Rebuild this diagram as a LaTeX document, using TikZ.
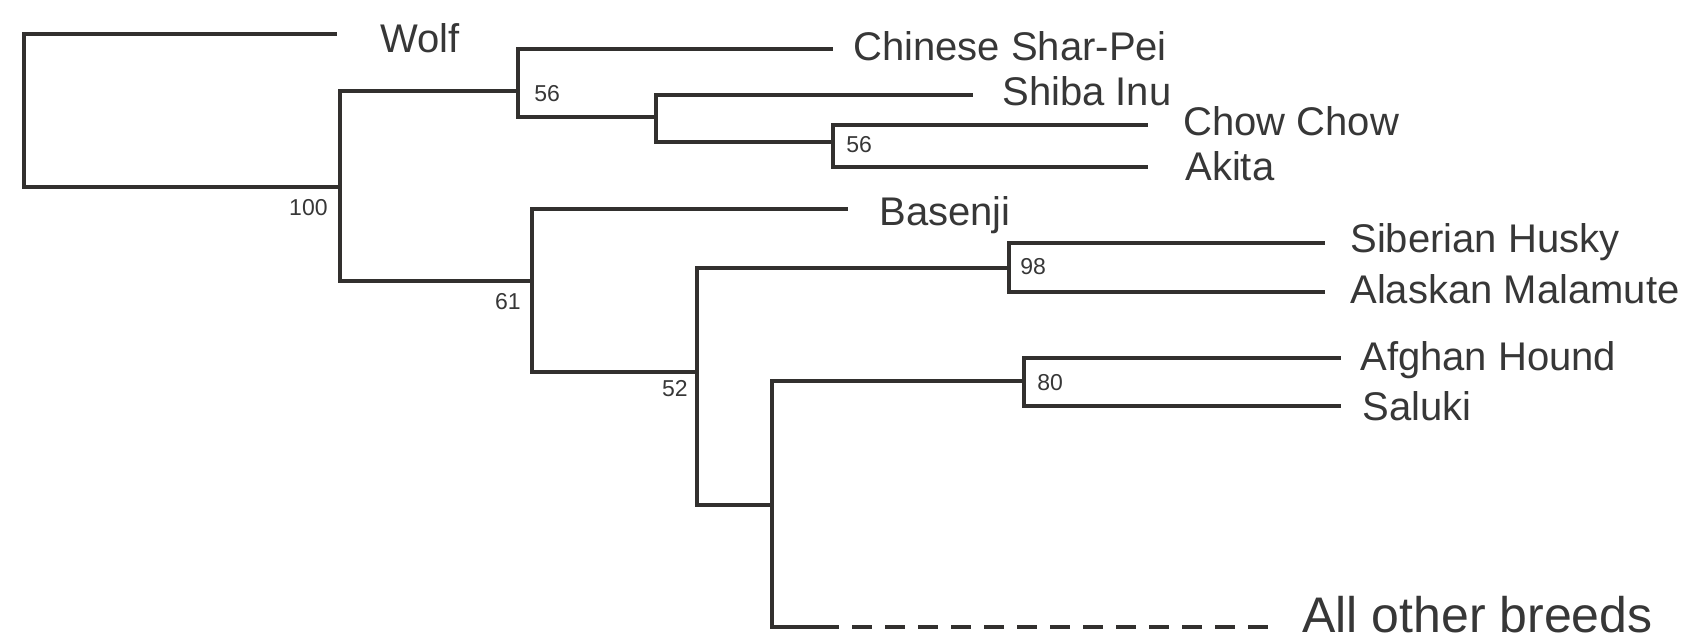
\documentclass[tikz,border=0pt]{standalone}
\usepackage{fontspec}
\setmainfont{Liberation Sans}
\definecolor{lc}{RGB}{50,48,46}
\definecolor{tc}{RGB}{55,55,55}
\begin{document}
\begin{tikzpicture}[x=0.5pt,y=-0.5pt,
  branch/.style={draw=lc,line width=1.7pt},
  dashbranch/.style={draw=lc,line width=1.7pt,dash pattern=on 10pt off 6.5pt},
  leaf/.style={anchor=base west,inner sep=0pt,text=tc,font=\fontsize{20pt}{22pt}\selectfont},
  bigleaf/.style={anchor=base west,inner sep=0pt,text=tc,font=\fontsize{25pt}{28pt}\selectfont},
  supw/.style={anchor=base west,inner sep=0pt,text=tc,font=\fontsize{11.5pt}{13pt}\selectfont},
  supe/.style={anchor=base east,inner sep=0pt,text=tc,font=\fontsize{11.5pt}{13pt}\selectfont}]
\useasboundingbox[fill=white] (0,0) rectangle (1685,640);
% internal nodes
\coordinate (root) at (24,110);
\coordinate (n100) at (340,187);
\coordinate (n56a) at (518,91);
\coordinate (nShiba) at (656,117);
\coordinate (n56b) at (833,142);
\coordinate (n61) at (532,281);
\coordinate (n52) at (697,372);
\coordinate (n98) at (1009,268);
\coordinate (nX) at (772,505);
\coordinate (n80) at (1024,381);
% tips
\coordinate (tWolf) at (337,34);
\coordinate (tShar) at (833,49);
\coordinate (tShiba) at (973,95);
\coordinate (tChow) at (1148,125);
\coordinate (tAkita) at (1148,167);
\coordinate (tBasenji) at (848,209);
\coordinate (tHusky) at (1325,243);
\coordinate (tMal) at (1325,292);
\coordinate (tAfghan) at (1341,358);
\coordinate (tSaluki) at (1341,406);
\coordinate (dStart) at (819,627);
\coordinate (tOthers) at (1278,627);
% branches
\draw[branch] (root) |- (tWolf);
\draw[branch] (root) |- (n100);
\draw[branch] (n100) |- (n56a);
\draw[branch] (n100) |- (n61);
\draw[branch] (n56a) |- (tShar);
\draw[branch] (n56a) |- (nShiba);
\draw[branch] (nShiba) |- (tShiba);
\draw[branch] (nShiba) |- (n56b);
\draw[branch] (n56b) |- (tChow);
\draw[branch] (n56b) |- (tAkita);
\draw[branch] (n61) |- (tBasenji);
\draw[branch] (n61) |- (n52);
\draw[branch] (n52) |- (n98);
\draw[branch] (n52) |- (nX);
\draw[branch] (n98) |- (tHusky);
\draw[branch] (n98) |- (tMal);
\draw[branch] (nX) |- (n80);
\draw[branch] (nX) |- (dStart);
\draw[branch] (n80) |- (tAfghan);
\draw[branch] (n80) |- (tSaluki);
\draw[dashbranch] (dStart) -- (tOthers);
% leaf labels
\node[leaf] (lWolf) at (380,53) {Wolf};
\node[leaf] (lShar) at (853,61) {Chinese Shar-Pei};
\node[leaf] (lShiba) at (1002,106) {Shiba Inu};
\node[leaf] (lChow) at (1183,136) {Chow Chow};
\node[leaf] (lAkita) at (1185,181) {Akita};
\node[leaf] (lBasenji) at (879,226) {Basenji};
\node[leaf] (lHusky) at (1350,253) {Siberian Husky};
\node[leaf] (lMal) at (1350,304) {Alaskan Malamute};
\node[leaf] (lAfghan) at (1360,371) {Afghan Hound};
\node[leaf] (lSaluki) at (1362,421) {Saluki};
\node[bigleaf] (lOthers) at (1302,632) {All other breeds};
% support values
\node[supe] (s100) at (328,216) {100};
\node[supw] (s56a) at (534,102) {56};
\node[supw] (s56b) at (846,153) {56};
\node[supe] (s61) at (521,310) {61};
\node[supe] (s52) at (688,397) {52};
\node[supw] (s98) at (1020,275) {98};
\node[supw] (s80) at (1037,391) {80};
\end{tikzpicture}
\end{document}
